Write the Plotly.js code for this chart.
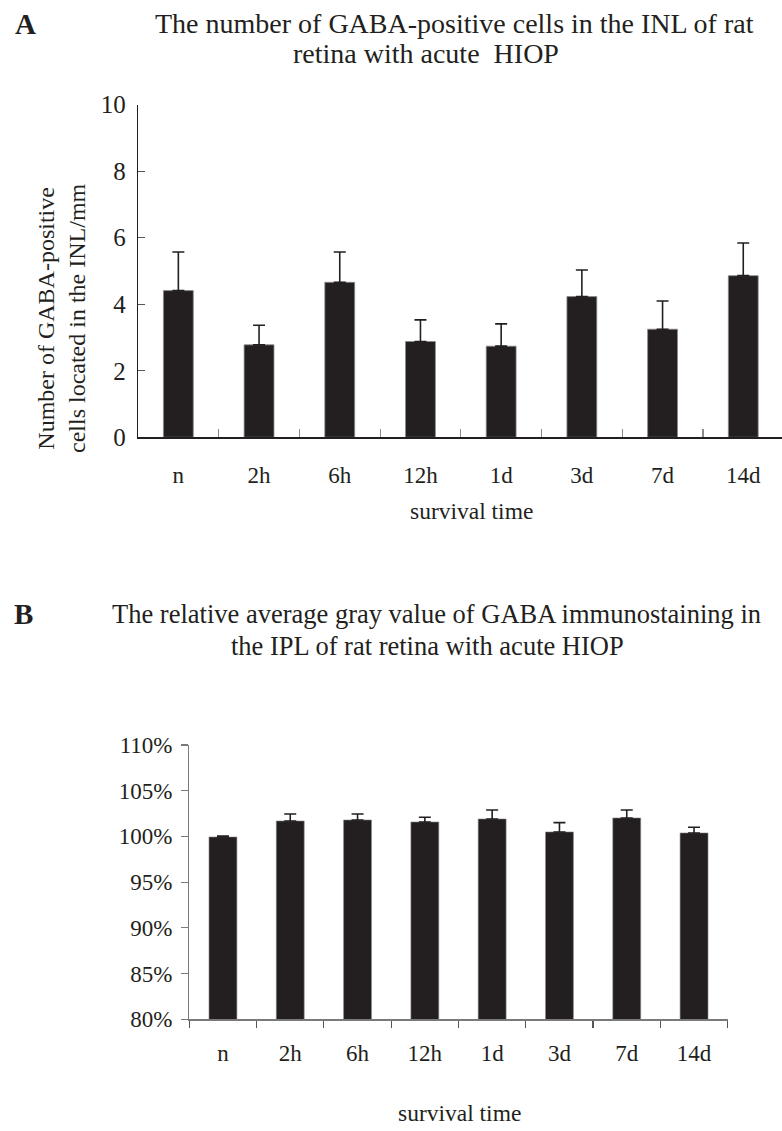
<!DOCTYPE html>
<html>
<head>
<meta charset="utf-8">
<script src="https://cdn.plot.ly/plotly-3.0.1.min.js"></script>
<style>html,body{margin:0;padding:0;background:#fff;}#chart{width:782px;height:1131px;}</style>
</head>
<body>
<div id="chart"></div>
<script>
// ---- data ----
const categories = ["n", "2h", "6h", "12h", "1d", "3d", "7d", "14d"];
// Panel A: number of GABA-positive cells in INL (cells/mm)
const cellsMean = [4.41, 2.78, 4.66, 2.88, 2.74, 4.23, 3.25, 4.86];
const cellsErr  = [1.16, 0.59, 0.91, 0.65, 0.67, 0.80, 0.85, 0.98];
// Panel B: relative average gray value (%)
const grayMean = [99.94, 101.69, 101.80, 101.58, 101.91, 100.49, 102.02, 100.38];
const grayErr  = [0.10, 0.77, 0.66, 0.51, 0.98, 1.02, 0.87, 0.62];
const yTicksA = [0, 2, 4, 6, 8, 10];
const yTicksB = [80, 85, 90, 95, 100, 105, 110];
const yTickTextB = yTicksB.map(v => v + "%");

const W = 782, H = 1131;
const px = v => v / W;
const py = v => 1 - v / H;
const FONT = "Liberation Serif, Times New Roman, serif";
const BAR = "#231f20";

const zeros = categories.map(() => 0);

const traces = [
  {
    type: "bar", x: categories, y: cellsMean, xaxis: "x", yaxis: "y",
    width: 0.37,
    marker: {color: BAR, line: {color: "#8a8a8a", width: 0.8}},
    error_y: {type: "data", symmetric: false, array: cellsErr, arrayminus: zeros,
              color: BAR, thickness: 1.6, width: 6},
    hoverinfo: "skip", showlegend: false
  },
  {
    type: "bar", x: categories, y: grayMean, xaxis: "x2", yaxis: "y2",
    width: 0.415,
    marker: {color: BAR, line: {color: "#8a8a8a", width: 0.6}},
    error_y: {type: "data", symmetric: false, array: grayErr, arrayminus: zeros,
              color: BAR, thickness: 1.6, width: 6},
    hoverinfo: "skip", showlegend: false
  }
];

const layout = {
  width: W, height: H,
  margin: {l: 0, r: 0, t: 0, b: 0},
  paper_bgcolor: "#fff", plot_bgcolor: "rgba(0,0,0,0)",
  font: {family: FONT, color: "#231f20", size: 20},
  xaxis: {
    domain: [px(138), 1], anchor: "y",
    type: "category", range: [-0.5, 7.48],
    showline: true, linecolor: "#231f20", linewidth: 1.2,
    ticks: "inside", tickson: "boundaries", ticklen: 8, tickcolor: "#8a8a8a", tickwidth: 1.2,
    showgrid: false, zeroline: false,
    tickfont: {family: FONT, size: 23, color: "#231f20"},
    ticklabelstandoff: 17
  },
  yaxis: {
    domain: [py(437.3), py(104.7)], anchor: "x",
    range: [0, 10], tickvals: yTicksA,
    showline: true, linecolor: "#231f20", linewidth: 1.2,
    ticks: "inside", ticklen: 7, tickcolor: "#555", tickwidth: 1.2,
    showgrid: false, zeroline: false,
    tickfont: {family: FONT, size: 25, color: "#231f20"},
    ticklabelstandoff: 6
  },
  xaxis2: {
    domain: [px(189.3), px(727.7)], anchor: "y2",
    type: "category", range: [-0.5, 7.5],
    showline: true, linecolor: "#7a7a7a", linewidth: 1.2,
    ticks: "outside", tickson: "boundaries", ticklen: 7, tickcolor: "#555", tickwidth: 1.2,
    showgrid: false, zeroline: false,
    tickfont: {family: FONT, size: 23, color: "#231f20"},
    ticklabelstandoff: 13
  },
  yaxis2: {
    domain: [py(1019.3), py(745)], anchor: "x2",
    range: [80, 110], tickvals: yTicksB, ticktext: yTickTextB,
    showline: true, linecolor: "#7a7a7a", linewidth: 1.2,
    ticks: "outside", ticklen: 7, tickcolor: "#7a7a7a", tickwidth: 1.2,
    showgrid: false, zeroline: false,
    tickfont: {family: FONT, size: 23, color: "#231f20"},
    ticklabelstandoff: 4
  },
  annotations: [
    {text: "<b>A</b>", x: px(25), y: py(24), xref: "paper", yref: "paper",
     xanchor: "center", yanchor: "middle", showarrow: false, font: {size: 29}},
    {text: "The number of GABA-positive cells in the INL of rat", x: px(454), y: py(23),
     xref: "paper", yref: "paper", xanchor: "center", yanchor: "middle", showarrow: false, font: {size: 28}},
    {text: "retina with acute  HIOP", x: px(426), y: py(54),
     xref: "paper", yref: "paper", xanchor: "center", yanchor: "middle", showarrow: false, font: {size: 28}},
    {text: "Number of GABA-positive<br>cells located in the INL/mm", textangle: -90,
     x: px(61), y: py(318), xref: "paper", yref: "paper", xanchor: "center", yanchor: "middle",
     showarrow: false, font: {size: 24}},
    {text: "survival time", x: px(472), y: py(511), xref: "paper", yref: "paper",
     xanchor: "center", yanchor: "middle", showarrow: false, font: {size: 23.5}},

    {text: "<b>B</b>", x: px(23), y: py(614), xref: "paper", yref: "paper",
     xanchor: "center", yanchor: "middle", showarrow: false, font: {size: 29}},
    {text: "The relative average gray value of GABA immunostaining in", x: px(436), y: py(614),
     xref: "paper", yref: "paper", xanchor: "center", yanchor: "middle", showarrow: false, font: {size: 26.5}},
    {text: "the IPL of rat retina with acute HIOP", x: px(427), y: py(646),
     xref: "paper", yref: "paper", xanchor: "center", yanchor: "middle", showarrow: false, font: {size: 26.5}},
    {text: "survival time", x: px(459), y: py(1113), xref: "paper", yref: "paper",
     xanchor: "center", yanchor: "middle", showarrow: false, font: {size: 23.5}}
  ]
};

Plotly.newPlot("chart", traces, layout, {staticPlot: true, displayModeBar: false});
</script>
</body>
</html>
